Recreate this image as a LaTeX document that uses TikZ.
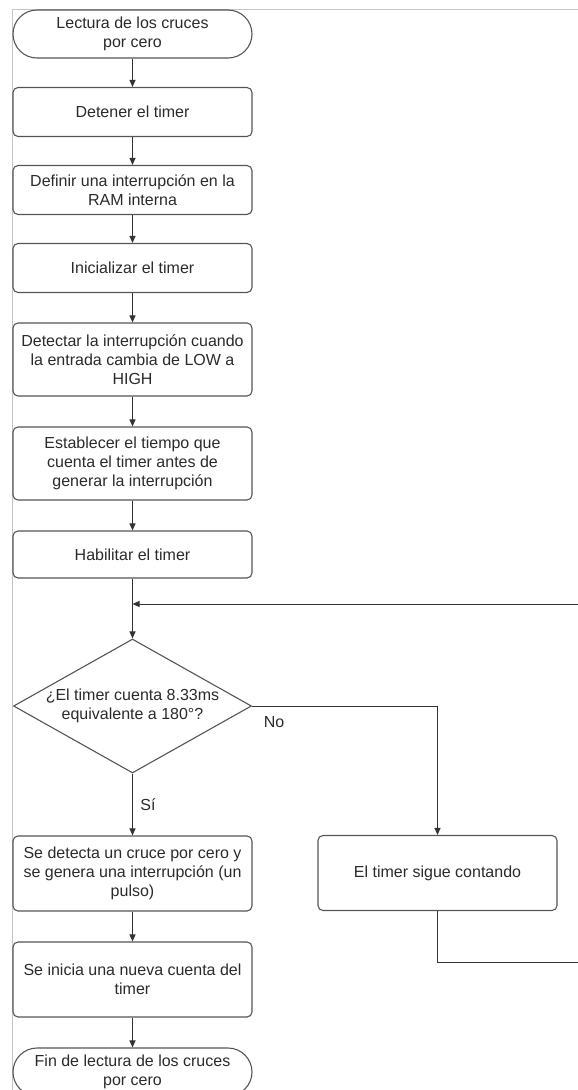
\documentclass[tikz,border=0pt]{standalone}
\usepackage{fontspec}
\setmainfont{Liberation Sans}
\usetikzlibrary{shapes.geometric,arrows.meta}
\definecolor{borde}{HTML}{555555}
\definecolor{linea}{HTML}{333333}
\definecolor{texto}{HTML}{2A2A2A}

\begin{document}
\begin{tikzpicture}[x=1pt,y=-1pt,
  every node/.style={font=\fontsize{16pt}{19pt}\selectfont, text=texto},
  paso/.style={draw=borde, line width=1.1pt, rounded corners=5pt, minimum width=239pt, minimum height=49pt, align=center, inner sep=0pt},
  pasolargo/.style={paso, minimum height=75pt},
  extremo/.style={paso, rounded corners=24pt, minimum height=48pt},
  pregunta/.style={draw=borde, line width=1.1pt, diamond, aspect=1.78, inner sep=0pt, minimum width=238pt, minimum height=134pt, align=center},
  flecha/.style={draw=linea, line width=1pt, -{Triangle[length=7pt,width=6pt]}},
  marco/.style={draw=gray!45, line width=0.8pt}]
  \useasboundingbox (0,0) rectangle (578,1090);
  \draw[marco] (12,1090) -- (12,9) -- (578,9);
  \node[extremo] (lectura) at (132.5,34) {Lectura de los cruces\\por cero};
  \node[paso] (detener) at (132.5,112) {Detener el timer};
  \node[paso] (definir) at (132.5,190) {Definir una interrupción en la\\RAM interna};
  \node[paso] (inicializar) at (132.5,268) {Inicializar el timer};
  \node[pasolargo, minimum height=73pt] (detectar) at (132.5,359.5) {Detectar la interrupción cuando\\la entrada cambia de LOW a\\HIGH};
  \node[pasolargo, minimum height=73pt] (establecer) at (132.5,463.5) {Establecer el tiempo que\\cuenta el timer antes de\\generar la interrupción};
  \node[paso, minimum height=47pt] (habilitar) at (132.5,554.5) {Habilitar el timer};
  \node[pregunta] (cuenta) at (132.5,706) {¿El timer cuenta 8.33ms\\equivalente a 180°?};
  \node[pasolargo] (cruce) at (132.5,873.5) {Se detecta un cruce por cero y\\se genera una interrupción (un\\pulso)};
  \node[pasolargo] (sigue) at (437.5,873) {El timer sigue contando};
  \node[pasolargo] (nueva) at (132.5,979.5) {Se inicia una nueva cuenta del\\timer};
  \node[extremo] (fin) at (132.5,1072) {Fin de lectura de los cruces\\por cero};
  \node (no) at (274,722) {No};
  \node (si) at (148,805) {Sí};
  \coordinate (bajo) at (437.5,962);
  \coordinate (bajoder) at (582,962);
  \coordinate (arriba) at (582,604);
  \coordinate (union) at (132.5,604);
  \draw[flecha] (lectura) -- (detener);
  \draw[flecha] (detener) -- (definir);
  \draw[flecha] (definir) -- (inicializar);
  \draw[flecha] (inicializar) -- (detectar);
  \draw[flecha] (detectar) -- (establecer);
  \draw[flecha] (establecer) -- (habilitar);
  \draw[flecha] (habilitar) -- (cuenta);
  \draw[flecha] (cuenta) -- (cruce);
  \draw[flecha] (cuenta.east) -| (sigue);
  \draw[flecha] (cruce) -- (nueva);
  \draw[flecha] (nueva) -- (fin);
  \draw[flecha] (sigue) -- (bajo) -- (bajoder) -- (arriba) -- (union);
\end{tikzpicture}
\end{document}
